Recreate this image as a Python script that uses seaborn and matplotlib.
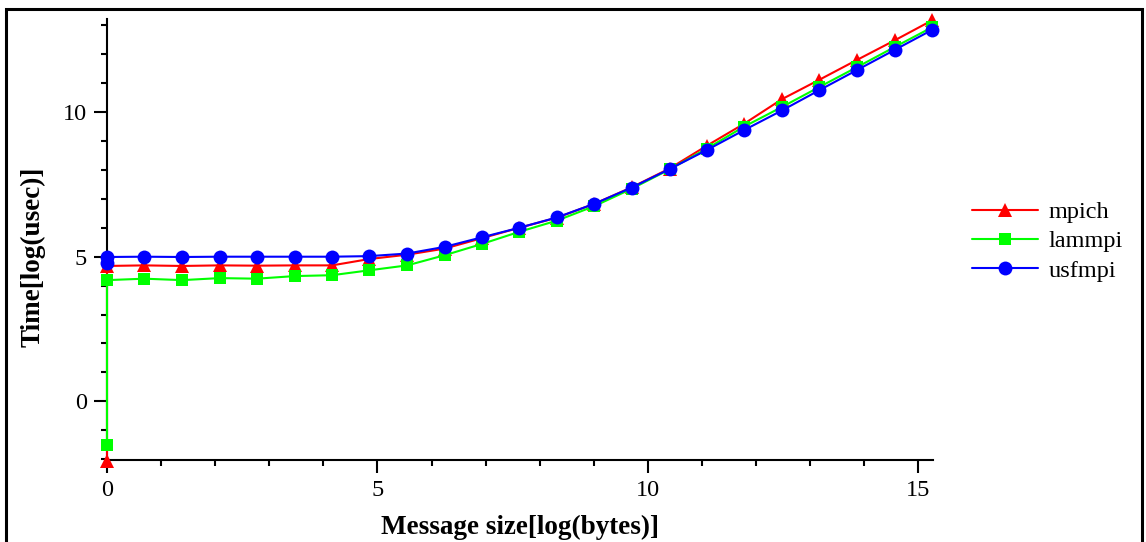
import matplotlib
matplotlib.use("Agg")
import matplotlib.pyplot as plt
from matplotlib.patches import Rectangle
from matplotlib.ticker import MultipleLocator
import seaborn as sns
import pandas as pd

# Message size [log(bytes)] (two samples at 0: zero-byte and 1-byte messages)
msg_size = [0, 0, 0.69, 1.39, 2.08, 2.77, 3.47, 4.16, 4.85, 5.55, 6.24, 6.93,
            7.62, 8.32, 9.01, 9.70, 10.40, 11.09, 11.78, 12.48, 13.17, 13.86,
            14.56, 15.25]
mpich = [-2.05, 4.68, 4.70, 4.68, 4.70, 4.69, 4.70, 4.70, 4.92, 5.07, 5.28, 5.64,
         6.00, 6.35, 6.83, 7.40, 8.05, 8.84, 9.60, 10.45, 11.12, 11.80, 12.48, 13.17]
lammpi = [-1.52, 4.19, 4.24, 4.19, 4.26, 4.24, 4.33, 4.36, 4.53, 4.70, 5.05, 5.44,
          5.86, 6.25, 6.75, 7.35, 8.02, 8.74, 9.50, 10.18, 10.87, 11.55, 12.25, 12.93]
usfmpi = [4.78, 4.99, 5.00, 4.99, 5.00, 5.00, 5.00, 5.00, 5.02, 5.11, 5.34, 5.67,
          6.00, 6.36, 6.83, 7.39, 8.03, 8.69, 9.38, 10.06, 10.76, 11.45, 12.15, 12.84]

series_names = ["mpich", "lammpi", "usfmpi"]
series_vals = [mpich, lammpi, usfmpi]
colors = ["#ff0000", "#00ff00", "#0000ff"]
markers = ["^", "s", "o"]
msizes = [10, 9, 10]

sns.set_style("white")
plt.rcParams["font.family"] = ["Liberation Serif", "DejaVu Serif"]
for k in ["text.color", "axes.labelcolor", "xtick.color", "ytick.color"]:
    plt.rcParams[k] = "black"

fig = plt.figure(figsize=(11.46, 5.42), dpi=100)
ax = fig.add_axes([107/1146, 1-460/542, (933-107)/1146, (460-19)/542])

for i, (name, vals, c, m, ms) in enumerate(zip(series_names, series_vals, colors, markers, msizes)):
    df = pd.DataFrame({"x": msg_size, "y": vals})
    sns.lineplot(data=df, x="x", y="y", ax=ax, estimator=None, sort=False,
                 color=c, marker=m, markersize=ms, markeredgewidth=0,
                 linewidth=1.5, label=name, clip_on=False, zorder=3 + i)

ax.set_xlim(0, 15.27)
ax.set_ylim(-2.03, 13.22)
ax.xaxis.set_major_locator(MultipleLocator(5))
ax.xaxis.set_minor_locator(MultipleLocator(1))
ax.yaxis.set_major_locator(MultipleLocator(5))
ax.yaxis.set_minor_locator(MultipleLocator(1))

for s in ["top", "right"]:
    ax.spines[s].set_visible(False)
for s in ["left", "bottom"]:
    ax.spines[s].set_linewidth(1.5)
    ax.spines[s].set_color("black")
ax.tick_params(which="major", direction="out", length=9.5, width=1.5,
               labelsize=17.5, pad=5, colors="black", left=True, bottom=True)
ax.tick_params(which="minor", direction="out", length=4.5, width=1.5,
               left=True, bottom=True, colors="black")

ax.set_xlabel("Message size[log(bytes)]", fontsize=19.5, fontweight="bold", labelpad=10)
ax.set_ylabel("Time[log(usec)]", fontsize=19.5, fontweight="bold")
ax.yaxis.set_label_coords(-0.074, 0.46)

leg = ax.legend(loc="upper left", bbox_to_anchor=(972/1146, 1-201/542),
                bbox_transform=fig.transFigure, frameon=False, fontsize=17.5,
                handlelength=2.7, handletextpad=0.45, labelspacing=0.3,
                borderpad=0, borderaxespad=0)

fig.patches.append(Rectangle((6/1146, -0.05), (1142-6)/1146, 1.05-9/542,
                             transform=fig.transFigure, fill=False,
                             edgecolor="black", linewidth=2.2))

fig.savefig("out.png", dpi=100)
